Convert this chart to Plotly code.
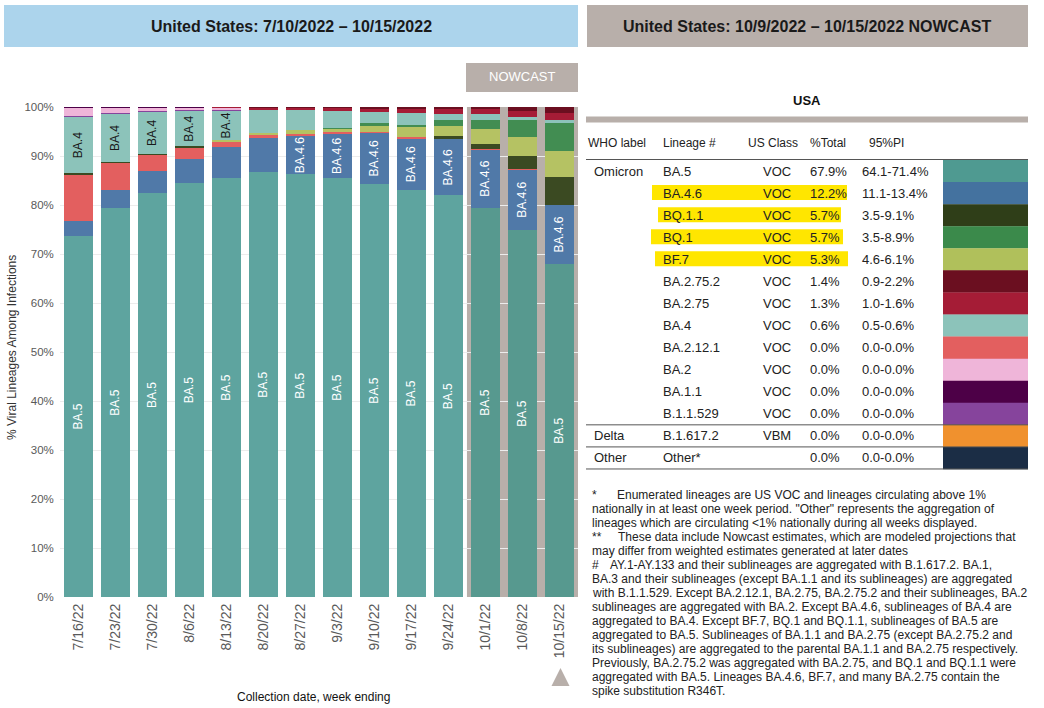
import plotly.graph_objects as go

W, H = 1044, 708
def px(x): return x / W
def py(y): return 1 - y / H

weeks = ["7/16/22", "7/23/22", "7/30/22", "8/6/22", "8/13/22", "8/20/22", "8/27/22",
         "9/3/22", "9/10/22", "9/17/22", "9/24/22", "10/1/22", "10/8/22", "10/15/22"]

# stacked shares (%), bottom to top
ba5    = [73.7, 79.4, 82.5, 84.5, 85.5, 86.7, 86.3, 85.5, 84.3, 83.1, 82.0, 79.4, 74.9, 67.9]
ba46   = [3.0, 3.7, 4.4, 4.9, 6.3, 7.0, 7.8, 9.1, 10.5, 10.5, 11.4, 12.0, 12.4, 12.2]
ba2121 = [9.6, 5.5, 3.4, 2.3, 1.1, 0.5, 0.3, 0.2, 0.2, 0.2, 0.0, 0.1, 0.1, 0.0]
bq11   = [0.2, 0.2, 0.2, 0.3, 0.0, 0.0, 0.0, 0.0, 0.0, 0.0, 0.7, 0.9, 2.5, 5.7]
bf7    = [0.0, 0.0, 0.0, 0.0, 0.3, 0.5, 0.9, 0.8, 1.2, 2.2, 2.0, 3.1, 4.0, 5.3]
bq1    = [0.0, 0.0, 0.0, 0.0, 0.0, 0.0, 0.0, 0.2, 0.5, 0.4, 1.2, 1.8, 3.4, 5.7]
ba4    = [11.5, 9.8, 8.5, 7.2, 6.1, 4.7, 4.1, 3.4, 2.2, 2.3, 1.3, 1.3, 0.7, 0.6]
b11529 = [0.2, 0.2, 0.2, 0.2, 0.2, 0.0, 0.0, 0.0, 0.0, 0.0, 0.0, 0.0, 0.0, 0.0]
ba2    = [1.6, 1.0, 0.6, 0.4, 0.3, 0.0, 0.0, 0.0, 0.0, 0.0, 0.0, 0.0, 0.0, 0.0]
ba275  = [0.0, 0.0, 0.0, 0.0, 0.2, 0.4, 0.4, 0.6, 0.7, 0.8, 1.1, 1.0, 1.2, 1.3]
ba2752 = [0.0, 0.0, 0.0, 0.0, 0.0, 0.2, 0.2, 0.2, 0.4, 0.5, 0.3, 0.4, 0.8, 1.4]
ba11   = [0.2, 0.2, 0.2, 0.2, 0.0, 0.0, 0.0, 0.0, 0.0, 0.0, 0.0, 0.0, 0.0, 0.0]

lbl_ba5  = ["BA.5"] * 14
lbl_ba46 = [""] * 6 + ["BA.4.6"] * 8
lbl_ba4  = ["BA.4"] * 5 + [""] * 9

ytick_vals = list(range(0, 101, 10))
ytick_text = [f"{v}%" for v in ytick_vals]

colors = {
    "BA.5": "#5ea49f", "BA.4.6": "#5079a8", "BA.2.12.1": "#e35f5f", "BQ.1.1": "#3b4a22",
    "BF.7": "#b5c263", "BQ.1": "#428d52", "BA.4": "#8cc3ba", "B.1.1.529": "#86449c",
    "BA.2": "#efb5d9", "BA.2.75": "#a51c36", "BA.2.75.2": "#6b0f20", "BA.1.1": "#4d0047",
    "B.1.617.2": "#f0912e", "Other": "#1b2d45",
}
swatch_colors = dict(colors, **{"BA.5": "#4f9a91", "BA.4.6": "#44729f", "BQ.1.1": "#2f3e18",
                                "BQ.1": "#3b8a4b", "BF.7": "#b0c05b"})
n_nowcast = 3

series = [
    ("BA.5", ba5, lbl_ba5, "white"),
    ("BA.4.6", ba46, lbl_ba46, "white"),
    ("BA.2.12.1", ba2121, None, None),
    ("BQ.1.1", bq11, None, None),
    ("BF.7", bf7, None, None),
    ("BQ.1", bq1, None, None),
    ("BA.4", ba4, lbl_ba4, "#1a1a1a"),
    ("B.1.1.529", b11529, None, None),
    ("BA.2", ba2, None, None),
    ("BA.2.75", ba275, None, None),
    ("BA.2.75.2", ba2752, None, None),
    ("BA.1.1", ba11, None, None),
]

fig = go.Figure()
for name, vals, lbl, tcol in series:
    if lbl is not None:
        kw = dict(text=lbl, textposition="inside", insidetextanchor="middle", textangle=-90,
                  textfont=dict(color=tcol, size=12, family="Arial"), constraintext="none")
    else:
        kw = dict(textposition="none")
    mcol = colors[name]
    if name == "BA.5":
        mcol = [colors[name]] * (len(weeks) - n_nowcast) + ["#57998f"] * n_nowcast
    fig.add_trace(go.Bar(x=weeks, y=vals, name=name, marker=dict(color=mcol, line=dict(width=0)),
                         hoverinfo="skip", showlegend=False, **kw))

Y0, Y100 = 597.0, 107.0
fig.update_layout(
    template="none",
    width=W, height=H, margin=dict(l=0, r=0, t=0, b=0, pad=0, autoexpand=False),
    paper_bgcolor="white", plot_bgcolor="rgba(0,0,0,0)",
    barmode="stack", bargap=0.22,
    font=dict(family="Arial", color="#333333"),
    xaxis=dict(type="category", domain=[px(59.8), px(578)], range=[-0.5, 13.5], automargin=False,
               tickangle=-90, tickfont=dict(size=14, color="#595959"), showline=False,
               ticks="", showgrid=False, zeroline=False, ticklabelstandoff=3),
    yaxis=dict(domain=[py(Y0), py(Y100)], range=[0, 100], tickmode="array", tickvals=ytick_vals,
               ticktext=ytick_text, tickfont=dict(size=11.5, color="#595959"), gridcolor="#ececec",
               gridwidth=1, zeroline=False, showline=False, ticks="", automargin=False,
               ticklabelstandoff=5),
)

shapes = []
ann = []

def rect(x0, y0, x1, y1, fill, layer="below"):
    shapes.append(dict(type="rect", xref="paper", yref="paper", x0=px(x0), x1=px(x1),
                       y0=py(y1), y1=py(y0), fillcolor=fill, line=dict(width=0), layer=layer))

def hline(x0, x1, y, color="#555555", w=1):
    shapes.append(dict(type="line", xref="paper", yref="paper", x0=px(x0), x1=px(x1),
                       y0=py(y), y1=py(y), line=dict(color=color, width=w)))

def text(x, y, s, size=13, color="#222222", xanchor="left", bold=False, angle=0, yanchor="middle"):
    if bold:
        s = "<b>" + s + "</b>"
    ann.append(dict(xref="paper", yref="paper", x=px(x), y=py(y), text=s, showarrow=False,
                    xanchor=xanchor, yanchor=yanchor, textangle=angle,
                    font=dict(size=size, color=color, family="Arial")))

# headers
rect(4, 5, 578, 47, "#acd4ec")
rect(587, 5, 1028, 47, "#b8afaa")
text(291, 26, "United States: 7/10/2022 – 10/15/2022", size=16, color="#1a1a1a", xanchor="center", bold=True)
text(807, 26, "United States: 10/9/2022 – 10/15/2022 NOWCAST", size=16, color="#1a1a1a", xanchor="center", bold=True)

# nowcast box + background
rect(466, 63, 578, 92, "#b8afaa")
text(522, 77, "NOWCAST", size=13, color="white", xanchor="center")
shapes.append(dict(type="rect", xref="x", yref="y", x0=10.5, x1=13.5, y0=-0.15, y1=101.1,
                   fillcolor="#b8afaa", line=dict(width=0), layer="below"))

# axis titles
text(12, 348, "% Viral Lineages Among Infections", size=12, color="#333333", xanchor="center", angle=-90)
text(313, 697, "Collection date, week ending", size=12, color="#111111", xanchor="center")

# triangle marker
shapes.append(dict(type="path", xref="paper", yref="paper",
                   path=f"M {px(551.5)},{py(686)} L {px(569.5)},{py(686)} L {px(560.5)},{py(668)} Z",
                   fillcolor="#b8afaa", line=dict(width=0)))

# table
text(807, 100, "USA", size=13, color="#111111", xanchor="center", bold=True)
rect(586, 116.5, 1028, 122.5, "#b8afaa")

who = ["Omicron", "", "", "", "", "", "", "", "", "", "", "", "Delta", "Other"]
lineage = ["BA.5", "BA.4.6", "BQ.1.1", "BQ.1", "BF.7", "BA.2.75.2", "BA.2.75", "BA.4",
           "BA.2.12.1", "BA.2", "BA.1.1", "B.1.1.529", "B.1.617.2", "Other*"]
us_class = ["VOC"] * 12 + ["VBM", ""]
pct_total = ["67.9%", "12.2%", "5.7%", "5.7%", "5.3%", "1.4%", "1.3%", "0.6%",
             "0.0%", "0.0%", "0.0%", "0.0%", "0.0%", "0.0%"]
pi95 = ["64.1-71.4%", "11.1-13.4%", "3.5-9.1%", "3.5-8.9%", "4.6-6.1%", "0.9-2.2%", "1.0-1.6%",
        "0.5-0.6%", "0.0-0.0%", "0.0-0.0%", "0.0-0.0%", "0.0-0.0%", "0.0-0.0%", "0.0-0.0%"]
swatch_keys = ["BA.5", "BA.4.6", "BQ.1.1", "BQ.1", "BF.7", "BA.2.75.2", "BA.2.75", "BA.4",
               "BA.2.12.1", "BA.2", "BA.1.1", "B.1.1.529", "B.1.617.2", "Other"]
highlighted = ["BA.4.6", "BQ.1.1", "BQ.1", "BF.7"]
hl_x = {"BA.4.6": (652, 847), "BQ.1.1": (658, 841), "BQ.1": (651, 843), "BF.7": (655, 848)}

hy = 143
for xx, s in [(586, "WHO label"), (661, "Lineage #"), (746, "US Class"), (808, "%Total"), (867, "95%PI")]:
    text(xx, hy, s, size=12, color="#222222")
hline(586, 1028, 159.5)

step = 22.07
for i in range(len(lineage)):
    yc = 171 + step * i
    top = 160 + step * i
    rect(943, top, 1028, top + step + 0.3, swatch_colors[swatch_keys[i]])
    if lineage[i] in highlighted:
        x0, x1 = hl_x[lineage[i]]
        rect(x0, yc - 8, x1, yc + 7, "#ffe600")
    text(592, yc, who[i])
    text(661, yc, lineage[i])
    text(761, yc, us_class[i])
    text(808, yc, pct_total[i])
    text(860, yc, pi95[i])
hline(586, 1028, 160 + step * 12)
hline(586, 1028, 160 + step * 13)
hline(586, 1028, 160 + step * 14)

# footnotes
foot = [
    ("*", "Enumerated lineages are US VOC and lineages circulating above 1%"),
    ("", "nationally in at least one week period. \"Other\" represents the aggregation of"),
    ("", "lineages which are circulating &lt;1% nationally during all weeks displayed."),
    ("**", "These data include Nowcast estimates, which are modeled projections that"),
    ("", "may differ from weighted estimates generated at later dates"),
    ("#", "AY.1-AY.133 and their sublineages are aggregated with B.1.617.2. BA.1,"),
    ("", "BA.3 and their sublineages (except BA.1.1 and its sublineages) are aggregated"),
    ("", "with B.1.1.529. Except BA.2.12.1, BA.2.75, BA.2.75.2 and their sublineages, BA.2"),
    ("", "sublineages are aggregated with BA.2. Except BA.4.6, sublineages of BA.4 are"),
    ("", "aggregated to BA.4. Except BF.7, BQ.1 and BQ.1.1, sublineages of BA.5 are"),
    ("", "aggregated to BA.5. Sublineages of BA.1.1 and BA.2.75 (except BA.2.75.2 and"),
    ("", "its sublineages) are aggregated to the parental BA.1.1 and BA.2.75 respectively."),
    ("", "Previously, BA.2.75.2 was aggregated with BA.2.75, and BQ.1 and BQ.1.1 were"),
    ("", "aggregated with BA.5. Lineages BA.4.6, BF.7, and many BA.2.75 contain the"),
    ("", "spike substitution R346T."),
]
indent = {"*": 615, "**": 616, "#": 608}
for i, (mark, s) in enumerate(foot):
    yy = 495 + 14 * i
    if mark:
        text(590, yy, mark, size=12, color="#222222")
        text(indent[mark], yy, s, size=12, color="#222222")
    else:
        text(590, yy, s, size=12, color="#222222")

fig.update_layout(shapes=shapes, annotations=ann)
fig.write_html("out.html", post_script="document.body.style.margin='0';")
